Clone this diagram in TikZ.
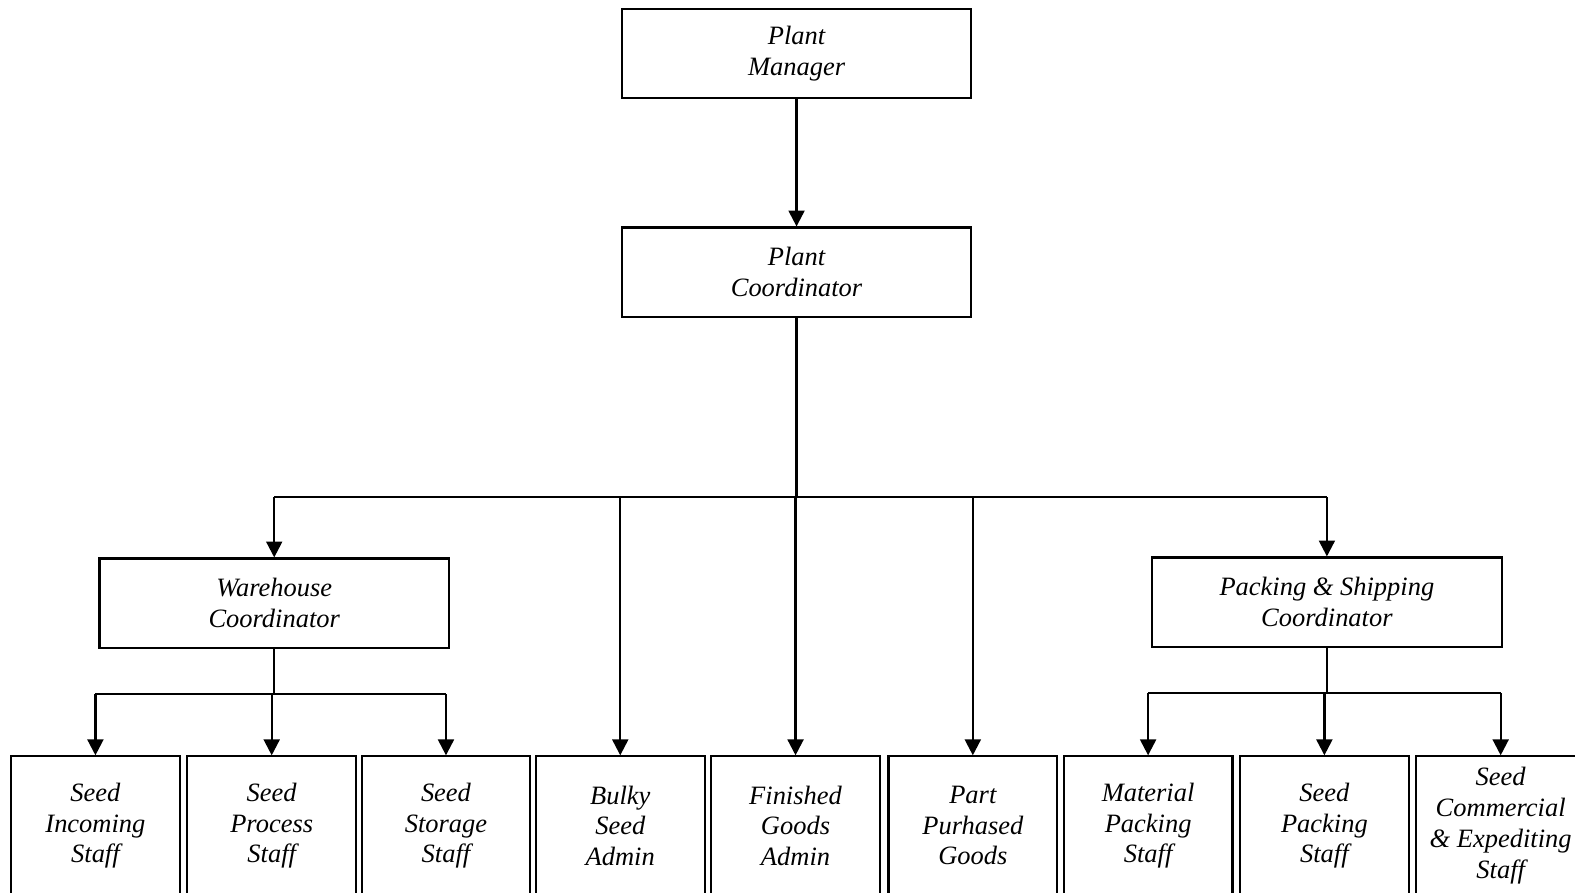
\documentclass[tikz,border=0pt]{standalone}
\usepackage{fontspec}
\setmainfont{Liberation Serif}
\usetikzlibrary{arrows.meta}
\tikzset{
	box/.style = {draw, line width = 1.2pt, align = center, inner sep = 0pt,
		minimum width = 6.96cm, minimum height = 1.78cm,
		font = \itshape\fontsize{15}{17.4}\selectfont},
	staffbox/.style = {box, minimum width = 3.36cm, minimum height = 2.76cm},
	arr/.style = {-{Triangle[length = 9pt, width = 9pt]}},
}

\begin{document}
\begin{tikzpicture}[x = 0.02cm, y = -0.02cm, line width = 1.3pt]
		\useasboundingbox (0, 0) rectangle (1568, 889);
		%%%%%%%%%%%%%
		\node[box] (pm) at (793, 53.5) {Plant\\Manager};
		\node[box] (pc) at (793, 271) {Plant\\Coordinator};
		\node[box] (wc) at (273, 600.5) {Warehouse\\Coordinator};
		\node[box] (psc) at (1321, 599.5) {Packing \& Shipping\\Coordinator};
		%%%%%%%%%%%%%
		\node[staffbox] (s1) at (95, 822) {Seed\\Incoming\\Staff};
		\node[staffbox] (s2) at (270.5, 822) {Seed\\Process\\Staff};
		\node[staffbox] (s3) at (444, 822) {Seed\\Storage\\Staff};
		\node[staffbox] (s4) at (617.5, 822) {Bulky\\Seed\\Admin};
		\node[staffbox] (s5) at (792, 822) {Finished\\Goods\\Admin};
		\node[staffbox] (s6) at (968.5, 822) {Part\\Purhased\\Goods};
		\node[staffbox] (s7) at (1143, 822) {Material\\Packing\\Staff};
		\node[staffbox] (s8) at (1318.5, 822) {Seed\\Packing\\Staff};
		\node[staffbox] (s9) at (1494, 822) {Seed\\Commercial\\\& Expediting\\Staff};
		%%%%%%%%%%%%%
		\coordinate (bus) at (793, 495);
		\coordinate (wbus) at (273, 691);
		\coordinate (pbus) at (1321, 690);
		%%%%%%%%%%%%%
		\draw [arr] (pm) to (pc);
		\draw (pc) to (bus);
		\draw (bus -| wc) to (bus -| psc);
		\draw [arr] (bus -| wc) to (wc);
		\draw [arr] (bus -| psc) to (psc);
		\draw [arr] (bus -| s4) to (s4);
		\draw [arr] (bus -| s5) to (s5);
		\draw [arr] (bus -| s6) to (s6);
		%%%%%%%%%%%%%
		\draw (wc) to (wbus);
		\draw (wbus -| s1) to (wbus -| s3);
		\draw [arr] (wbus -| s1) to (s1);
		\draw [arr] (wbus -| s2) to (s2);
		\draw [arr] (wbus -| s3) to (s3);
		%%%%%%%%%%%%%
		\draw (psc) to (pbus);
		\draw (pbus -| s7) to (pbus -| s9);
		\draw [arr] (pbus -| s7) to (s7);
		\draw [arr] (pbus -| s8) to (s8);
		\draw [arr] (pbus -| s9) to (s9);
\end{tikzpicture}
\end{document}
